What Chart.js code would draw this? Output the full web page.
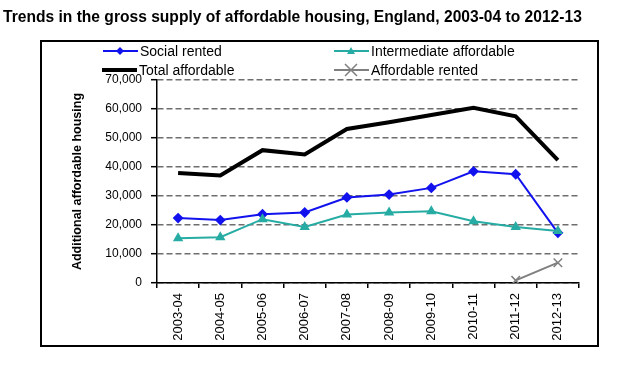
<!DOCTYPE html>
<html>
<head>
<meta charset="utf-8">
<script src="https://cdn.jsdelivr.net/npm/chart.js@4"></script>
<style>
  html, body { margin: 0; padding: 0; background: #fff; }
  #wrap { width: 640px; height: 370px; }
</style>
</head>
<body>
<div id="wrap"><canvas id="myChart" width="640" height="370"></canvas></div>
<script>
var years = ['2003-04', '2004-05', '2005-06', '2006-07', '2007-08', '2008-09', '2009-10', '2010-11', '2011-12', '2012-13'];
var socialRented = [22400, 21700, 23700, 24300, 29500, 30500, 32800, 38500, 37500, 17300];
var intermediateAffordable = [15400, 15800, 22000, 19300, 23600, 24300, 24700, 21300, 19300, 17900];
var totalAffordable = [37900, 37100, 45800, 44300, 53100, 55400, 57900, 60400, 57500, 42400];
var affordableRented = [null, null, null, null, null, null, null, null, 900, 7000];
var yTicks = [0, 10000, 20000, 30000, 40000, 50000, 60000, 70000];

var chartTitle = 'Trends in the gross supply of affordable housing, England, 2003-04 to 2012-13';
var FONT = '"Liberation Sans", Arial, sans-serif';

function fmt(v) {
    return String(v).replace(/\B(?=(\d{3})+(?!\d))/g, ',');
}

// marker shapes for the hand drawn legend
function drawMarker(ctx, style, x, y, r, color) {
    ctx.save();
    ctx.fillStyle = color;
    ctx.strokeStyle = color;
    ctx.beginPath();
    if (style === 'rectRot') {
        ctx.moveTo(x, y - r); ctx.lineTo(x + r, y); ctx.lineTo(x, y + r); ctx.lineTo(x - r, y);
        ctx.closePath(); ctx.fill();
    } else if (style === 'triangle') {
        ctx.moveTo(x, y - r); ctx.lineTo(x + r, y + r * 0.75); ctx.lineTo(x - r, y + r * 0.75);
        ctx.closePath(); ctx.fill();
    } else if (style === 'crossRot') {
        ctx.lineWidth = 1.5;
        ctx.moveTo(x - r, y - r); ctx.lineTo(x + r, y + r);
        ctx.moveTo(x + r, y - r); ctx.lineTo(x - r, y + r);
        ctx.stroke();
    }
    ctx.restore();
}

var frame = {
    id: 'frame',
    beforeDraw: function (chart) {
        var ctx = chart.ctx;
        ctx.save();
        ctx.fillStyle = '#fff';
        ctx.fillRect(0, 0, chart.width, chart.height);
        ctx.restore();
    },
    afterDraw: function (chart) {
        var ctx = chart.ctx;
        ctx.save();
        // title
        ctx.fillStyle = '#000';
        ctx.font = 'bold 15.6px ' + FONT;
        ctx.textBaseline = 'middle';
        ctx.textAlign = 'left';
        ctx.fillText(chartTitle, 3, 18);
        // outer box
        ctx.strokeStyle = '#000';
        ctx.lineWidth = 2;
        ctx.strokeRect(41, 41, 557, 305);
        // legend, two columns
        var slots = [[103, 51], [334, 51], [102, 70], [334, 70]];
        ctx.font = '14px ' + FONT;
        chart.data.datasets.forEach(function (ds, i) {
            var s = slots[i];
            ctx.beginPath();
            ctx.strokeStyle = ds.borderColor;
            ctx.lineWidth = ds.borderWidth;
            ctx.moveTo(s[0], s[1]);
            ctx.lineTo(s[0] + 35, s[1]);
            ctx.stroke();
            if (ds.pointRadius > 0) {
                drawMarker(ctx, ds.pointStyle, s[0] + 17, s[1], ds.pointRadius, ds.borderColor);
            }
            ctx.fillStyle = '#000';
            ctx.fillText(ds.label, s[0] + 37, s[1] + 1);
        });
        ctx.restore();
    }
};

var ctx = document.getElementById('myChart').getContext('2d');
var myChart = new Chart(ctx, {
    type: 'line',
    data: {
        labels: years,
        datasets: [
            {
                label: 'Social rented',
                data: socialRented,
                borderColor: '#1212ee',
                backgroundColor: '#1212ee',
                borderWidth: 2,
                pointStyle: 'rectRot',
                pointRadius: 4,
                order: 2
            },
            {
                label: 'Intermediate affordable',
                data: intermediateAffordable,
                borderColor: '#27aca4',
                backgroundColor: '#27aca4',
                borderWidth: 2,
                pointStyle: 'triangle',
                pointRadius: 4,
                order: 1
            },
            {
                label: 'Total affordable',
                data: totalAffordable,
                borderColor: '#000',
                backgroundColor: '#000',
                borderWidth: 4,
                pointRadius: 0,
                order: 3
            },
            {
                label: 'Affordable rented',
                data: affordableRented,
                borderColor: '#7f7f7f',
                backgroundColor: '#7f7f7f',
                borderWidth: 2,
                pointStyle: 'crossRot',
                pointRadius: 6,
                pointBorderWidth: 1.5,
                order: 0
            }
        ]
    },
    options: {
        responsive: false,
        animation: false,
        devicePixelRatio: 1,
        layout: { padding: { top: 80, left: 40, right: 61, bottom: 24 } },
        plugins: {
            legend: { display: false },
            title: { display: false },
            tooltip: { enabled: false }
        },
        elements: { line: { tension: 0 } },
        scales: {
            x: {
                offset: true,
                afterFit: function (scale) { scale.height = 63; },
                grid: {
                    offset: true,
                    drawOnChartArea: false,
                    color: '#000',
                    tickLength: 5,
                    lineWidth: 1.5
                },
                border: { color: '#000', width: 1.5 },
                ticks: {
                    autoSkip: false,
                    minRotation: 90,
                    maxRotation: 90,
                    padding: 5,
                    color: '#000',
                    font: { family: FONT, size: 13 }
                }
            },
            y: {
                min: 0,
                max: 70000,
                afterFit: function (scale) { scale.width = 117; },
                afterBuildTicks: function (scale) {
                    scale.ticks = yTicks.map(function (v) { return { value: v }; });
                },
                grid: {
                    color: '#6e6e6e',
                    lineWidth: 1.4,
                    tickColor: '#000',
                    tickLength: 6,
                    tickWidth: 1.5
                },
                border: { color: '#000', width: 1.5, dash: [6, 3] },
                title: {
                    display: true,
                    text: 'Additional affordable housing',
                    color: '#000',
                    font: { family: FONT, size: 12.5, weight: 'bold' },
                    padding: { top: 30, bottom: 0 }
                },
                ticks: {
                    padding: 9,
                    color: '#000',
                    font: { family: FONT, size: 12 },
                    callback: function (v) { return fmt(v); }
                }
            }
        }
    },
    plugins: [frame]
});
</script>
</body>
</html>
